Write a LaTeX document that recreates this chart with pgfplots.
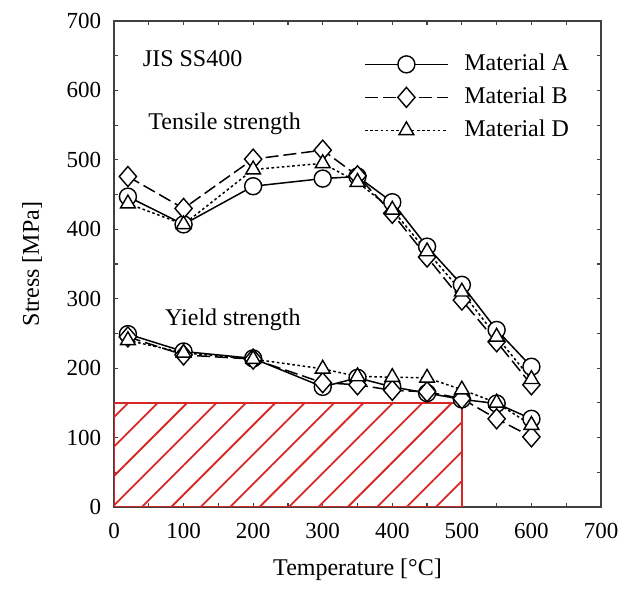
\documentclass[border=0pt]{standalone}
\usepackage{pgfplots}
\pgfplotsset{compat=1.18}
\usepackage{fontspec}
\setmainfont{Liberation Serif}
\usetikzlibrary{patterns.meta}
\definecolor{hatchred}{RGB}{215,40,40}

\begin{document}
\fontsize{12}{14}\selectfont
\begin{tikzpicture}
\begin{axis}[name=ax, width=243.5pt, height=243pt, scale only axis,
 xmin=0,xmax=700,ymin=0,ymax=700,
 xtick distance=100, ytick distance=100, minor tick num=1,
 tick align=inside, major tick length=2pt, minor tick length=2pt,
 axis line style={line width=0.8pt, black!75},
 tick style={line width=0.6pt, black!75},
 /pgf/number format/assume math mode=true,
 ticklabel style={font=\fontsize{11.5}{13}\selectfont},
 yticklabel style={xshift=-2.3pt},
 xticklabel style={yshift=-4pt},
 xlabel={Temperature [°C]}, ylabel={Stress [MPa]},
 every axis x label/.style={at={(axis description cs:0.5,-0.1296)}, anchor=center},
 every axis y label/.style={at={(axis description cs:-0.168,0.5)}, anchor=center, rotate=90},
 legend style={draw=none, fill=none, inner sep=0pt, at={(axis cs:359,590)}, anchor=west,
   nodes={inner sep=0.5pt, text height=8.5pt, text depth=2.5pt},
   row sep=4.5pt, /tikz/every odd column/.style={column sep=7.3pt}},
 legend cell align=left,
 legend image code/.code={\draw[mark repeat=2,mark phase=2,#1] plot coordinates {(0pt,0pt)(20.75pt,0pt)(41.5pt,0pt)};},
]
% hatched region
\addplot[forget plot, draw=hatchred, line width=0.8pt, pattern={Lines[angle=45,distance=10.4pt,line width=0.9pt]}, pattern color=hatchred]
 coordinates {(0,0)(0,150)(500,150)(500,0)(0,0)};

% Tensile strength
\addplot[black, line width=0.75pt, solid, mark=*, mark size=4.25pt, mark options={solid, fill=white, line width=0.7pt}]
 coordinates {(20,447)(100,407)(200,462)(300,473)(350,476)(400,439)(450,375)(500,320)(550,255)(600,202)};
\addlegendentry{Material A}
\addplot[black, line width=0.75pt, dash pattern=on 6.5pt off 2.5pt, mark=diamond*, mark size=5pt, mark options={solid, fill=white, line width=0.7pt, xscale=1.15}]
 coordinates {(20,476)(100,430)(200,501)(300,514)(350,477)(400,423)(450,360)(500,298)(550,238)(600,176)};
\addlegendentry{Material B}
\addplot[black, line width=0.75pt, dash pattern=on 1.3pt off 1.3pt, mark=triangle*, mark size=4.25pt, mark options={solid, fill=white, line width=0.7pt}]
 coordinates {(20,437)(100,407)(200,486)(300,495)(350,468)(400,428)(450,368)(500,310)(550,245)(600,184)};
\addlegendentry{Material D}

% Yield strength
\addplot[forget plot, black, line width=0.75pt, solid, mark=*, mark size=4.25pt, mark options={solid, fill=white, line width=0.7pt}]
 coordinates {(20,249)(100,224)(200,214)(300,173)(350,186)(400,173)(450,164)(500,155)(550,149)(600,127)};
\addplot[forget plot, black, line width=0.75pt, dash pattern=on 6.5pt off 2.5pt, mark=diamond*, mark size=5pt, mark options={solid, fill=white, line width=0.7pt, xscale=1.15}]
 coordinates {(20,245)(100,219)(200,213)(300,179)(350,176)(400,168)(450,166)(500,156)(550,127)(600,101)};
\addplot[forget plot, black, line width=0.75pt, dash pattern=on 1.3pt off 1.3pt, mark=triangle*, mark size=4.25pt, mark options={solid, fill=white, line width=0.7pt}]
 coordinates {(20,240)(100,222)(200,213)(300,199)(350,188)(400,187)(450,186)(500,169)(550,150)(600,118)};

\node[anchor=base west, inner sep=0pt] at (axis cs:41,634) {JIS SS400};
\node[anchor=base west, inner sep=0pt] at (axis cs:49,544) {Tensile strength};
\node[anchor=base west, inner sep=0pt] at (axis cs:73,262) {Yield strength};
\end{axis}
\path ([shift={(-57pt,-41.5pt)}]ax.south west) rectangle ([shift={(15pt,10.5pt)}]ax.north east);
\end{tikzpicture}
\end{document}
